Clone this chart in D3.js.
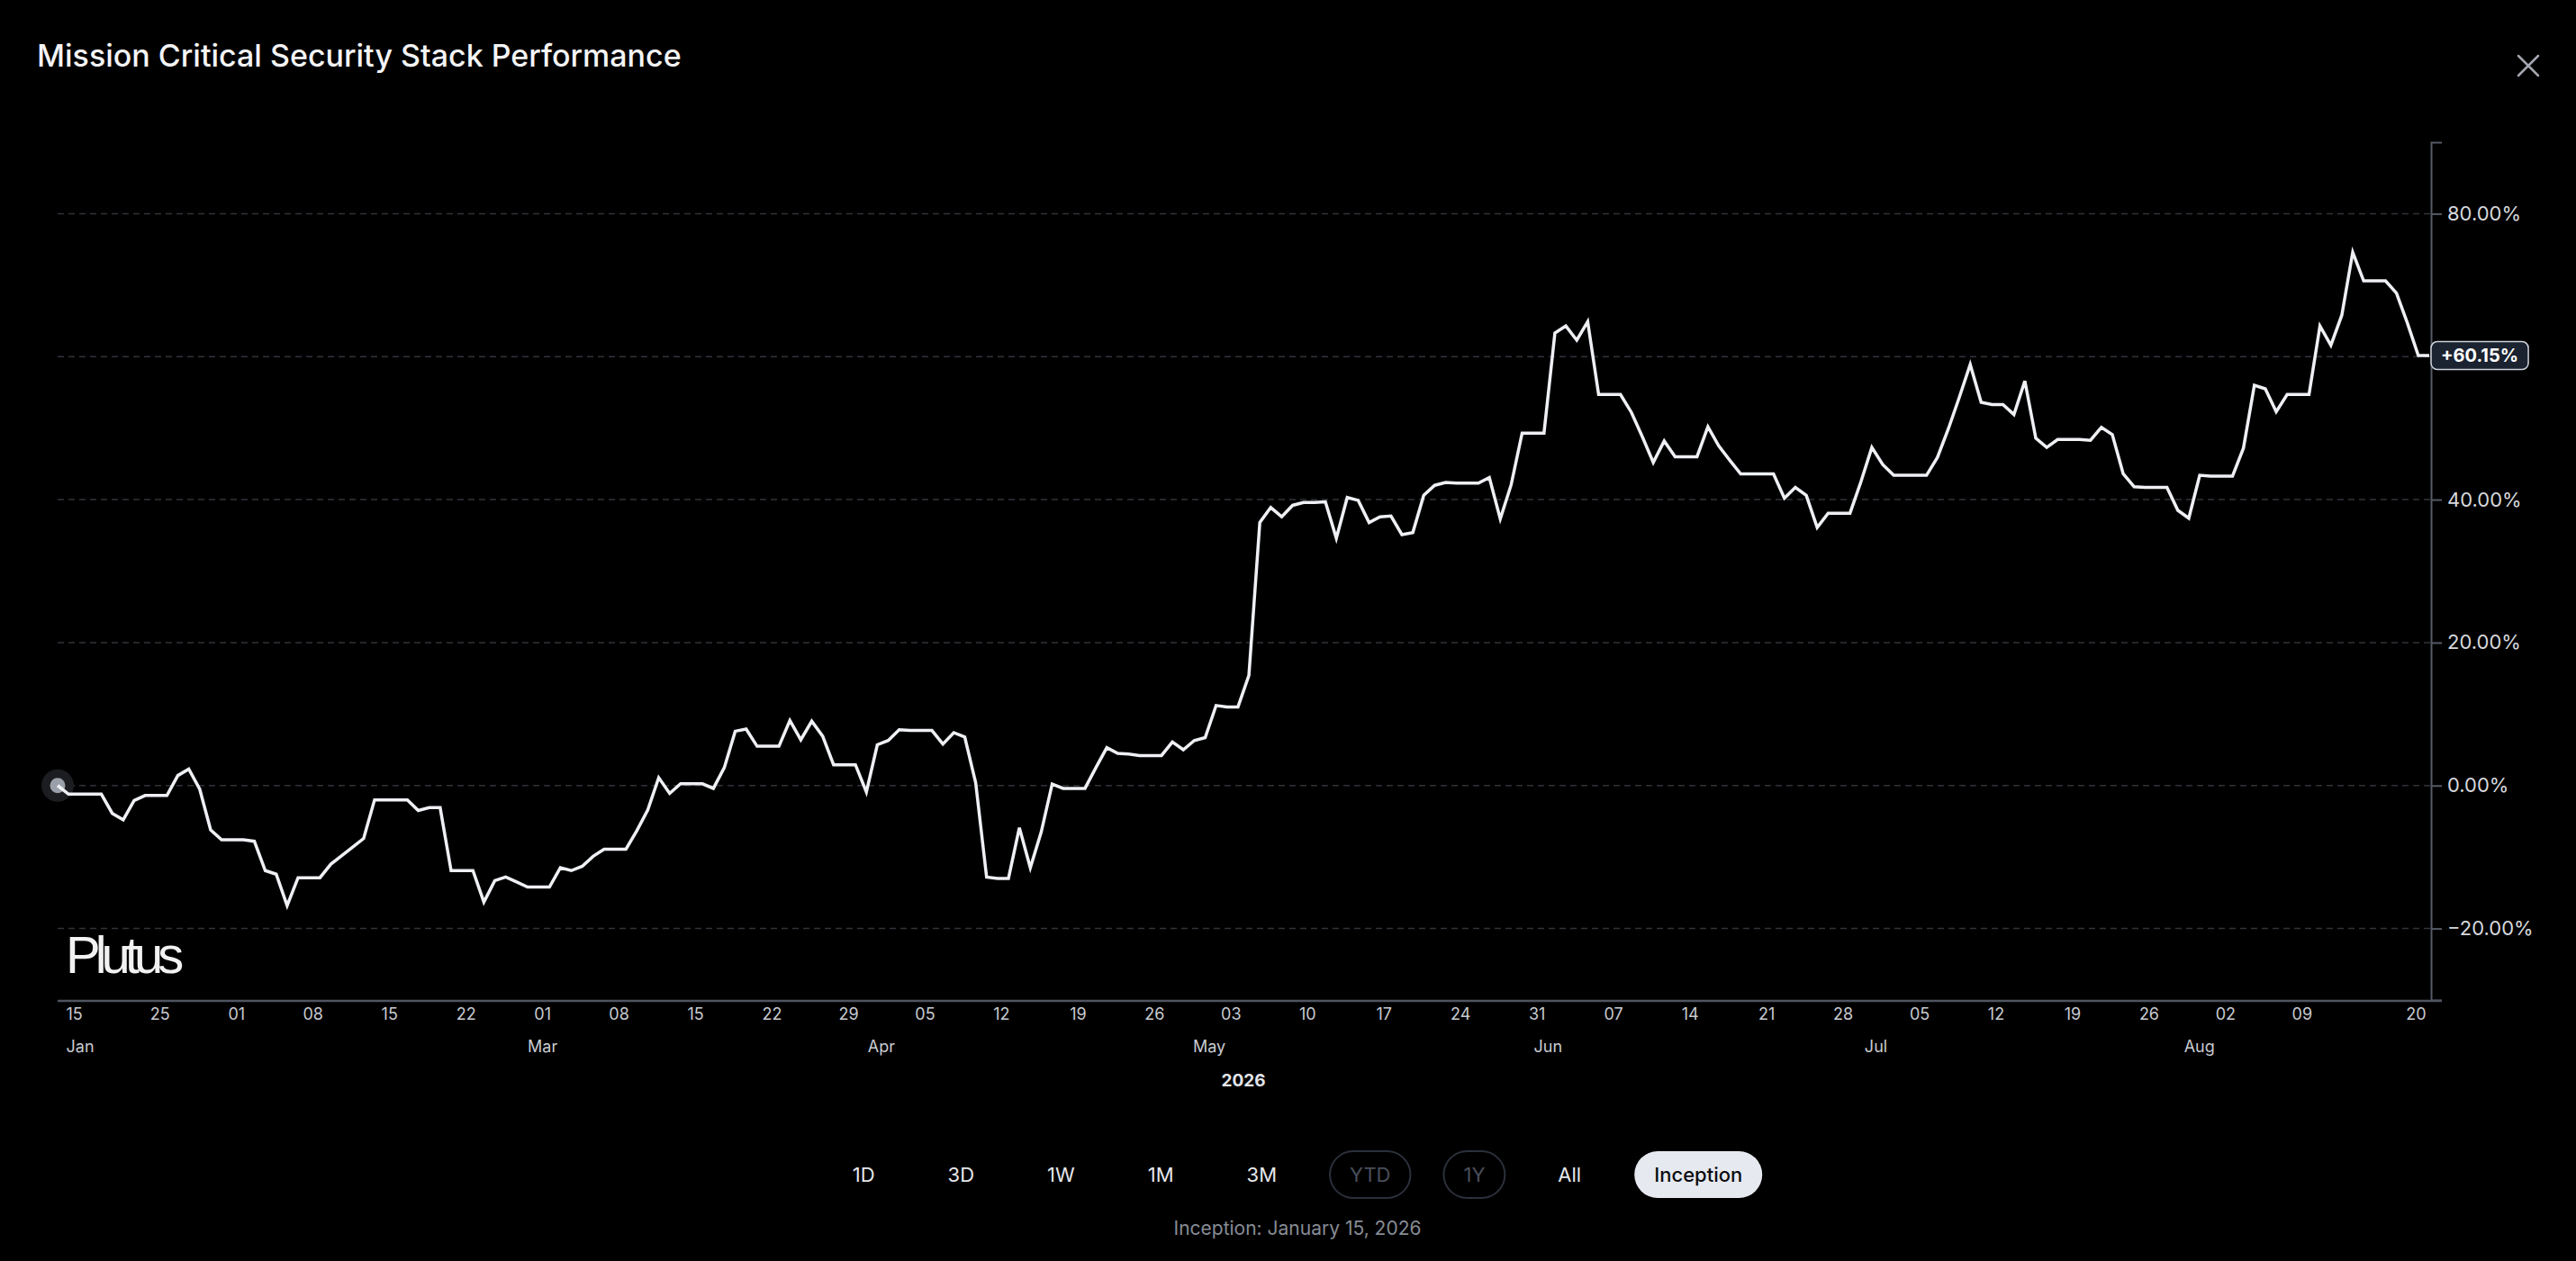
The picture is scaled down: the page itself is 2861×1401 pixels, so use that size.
<!DOCTYPE html>
<html>
<head>
<meta charset="utf-8">
<title>Mission Critical Security Stack Performance</title>
<script src="https://cdn.jsdelivr.net/npm/d3@7"></script>
<style>
  html, body { margin: 0; padding: 0; background: #000; overflow: hidden; }
  svg { display: block; font-family: Inter, "Noto Sans", sans-serif; }
</style>
</head>
<body>
<div class="container"></div>
<script>
// cumulative return (%) since inception, one value per calendar day from Jan 15
// (weekends / holidays just repeat the last close)
var returns = [
  0, -1.2, -1.2, -1.2, -1.2, -3.9, -4.8, -2.1, -1.4, -1.4,
  -1.4, 1.4, 2.3, -0.5, -6.2, -7.6, -7.6, -7.6, -7.8, -11.9,
  -12.4, -16.8, -12.9, -12.9, -12.9, -11.0, -9.8, -8.6, -7.4, -2.0,
  -2.0, -2.0, -2.0, -3.5, -3.1, -3.1, -11.9, -11.9, -11.9, -16.3,
  -13.3, -12.8, -13.5, -14.2, -14.2, -14.2, -11.5, -11.9, -11.3, -9.9,
  -8.9, -8.9, -8.9, -6.3, -3.4, 1.1, -1.1, 0.25, 0.25, 0.25,
  -0.4, 2.5, 7.6, 7.9, 5.5, 5.5, 5.5, 9.1, 6.4, 9.0,
  6.9, 2.9, 2.9, 2.9, -0.9, 5.7, 6.3, 7.8, 7.7, 7.7,
  7.7, 5.8, 7.4, 6.8, 0.4, -12.8, -13.0, -13.0, -5.9, -11.5,
  -6.5, 0.2, -0.4, -0.4, -0.4, 2.5, 5.3, 4.5, 4.4, 4.2,
  4.2, 4.2, 6.1, 5.0, 6.3, 6.7, 11.2, 11.0, 11.0, 15.4,
  36.8, 38.9, 37.6, 39.2, 39.6, 39.6, 39.7, 34.6, 40.3, 39.9,
  36.8, 37.6, 37.7, 35.1, 35.4, 40.6, 42.0, 42.4, 42.3, 42.3,
  42.3, 43.1, 37.3, 42.1, 49.3, 49.3, 49.3, 63.3, 64.3, 62.3,
  64.9, 54.7, 54.7, 54.7, 52.2, 48.8, 45.2, 48.2, 46.0, 46.0,
  46.0, 50.2, 47.5, 45.5, 43.6, 43.6, 43.6, 43.6, 40.2, 41.7,
  40.6, 36.1, 38.1, 38.1, 38.1, 42.5, 47.3, 44.9, 43.4, 43.4,
  43.4, 43.4, 45.9, 49.9, 54.3, 58.9, 53.6, 53.3, 53.3, 51.9,
  56.6, 48.6, 47.3, 48.4, 48.4, 48.4, 48.3, 50.1, 49.1, 43.6,
  41.8, 41.7, 41.7, 41.7, 38.5, 37.4, 43.4, 43.3, 43.3, 43.3,
  47.2, 56.0, 55.5, 52.3, 54.7, 54.7, 54.7, 64.3, 61.6, 65.8,
  74.6, 70.6, 70.6, 70.6, 68.9, 64.7, 60.15, 60.15
];

var yTicks = [-20, 0, 20, 40, 60, 80];
// weekly tick labels between the first and last day
var dayTicks = [
  "2026-01-25", "2026-02-01", "2026-02-08", "2026-02-15", "2026-02-22",
  "2026-03-01", "2026-03-08", "2026-03-15", "2026-03-22", "2026-03-29",
  "2026-04-05", "2026-04-12", "2026-04-19", "2026-04-26", "2026-05-03",
  "2026-05-10", "2026-05-17", "2026-05-24", "2026-05-31", "2026-06-07",
  "2026-06-14", "2026-06-21", "2026-06-28", "2026-07-05", "2026-07-12",
  "2026-07-19", "2026-07-26", "2026-08-02", "2026-08-09"
];
var monthTicks = ["2026-03-01", "2026-04-01", "2026-05-01", "2026-06-01", "2026-07-01", "2026-08-01"];
var ranges = ["1D", "3D", "1W", "1M", "3M", "YTD", "1Y", "All", "Inception"];
var disabledRanges = ["YTD", "1Y"];
var activeRange = "Inception";

var TITLE = "Mission Critical Security Stack Performance";
var NOTE = "Inception: January 15, 2026";

var translate = (x, y) => (`translate(${x}, ${y})`);

const WIDTH = 2861;
const HEIGHT = 1401;
const PLOT_LEFT = 64;
const PLOT_RIGHT = 2698;
const PLOT_TOP = 158;
const PLOT_BOTTOM = 1111;
const AXIS_X = 2700;
const ROW_CENTER = 1441;

var parseDay = d3.timeParse("%Y-%m-%d");

// points are stamped at the 16:00 close
var series = returns.map((v, i) => ({ date: new Date(2026, 0, 15 + i, 16), value: v }));
var first = series[0];
var last = series[series.length - 1];

var xScale = d3.scaleTime()
    .domain([first.date, last.date])
    .range([PLOT_LEFT, PLOT_RIGHT]);

var yScale = d3.scaleLinear()
    .domain([-30, 90])
    .range([PLOT_BOTTOM, PLOT_TOP]);

var draw = function () {
    let svg = d3.select('.container').append('svg')
        .attr('width', WIDTH)
        .attr('height', HEIGHT);

    svg.append('rect')
        .attr('width', WIDTH)
        .attr('height', HEIGHT)
        .attr('fill', '#000');

    svg.append('text')
        .attr('x', 41)
        .attr('y', 74)
        .attr('font-size', 34)
        .attr('font-weight', 500)
        .attr('fill', '#f4f4f6')
        .text(TITLE);

    // close cross
    let close = svg.append('g')
        .attr('transform', translate(2808, 73))
        .attr('stroke', '#a3a7af')
        .attr('stroke-width', 2.5)
        .attr('stroke-linecap', 'round');
    close.append('line').attr('x1', -11).attr('y1', -11).attr('x2', 11).attr('y2', 11);
    close.append('line').attr('x1', -11).attr('y1', 11).attr('x2', 11).attr('y2', -11);

    // grid
    svg.append('g').selectAll('line')
        .data(yTicks)
        .enter().append('line')
        .attr('x1', PLOT_LEFT)
        .attr('x2', AXIS_X)
        .attr('y1', d => yScale(d))
        .attr('y2', d => yScale(d))
        .attr('stroke', '#30333a')
        .attr('stroke-width', 1.5)
        .attr('stroke-dasharray', '7,5');

    // watermark
    svg.append('text')
        .attr('x', 73)
        .attr('y', 1081)
        .attr('font-family', '"Liberation Sans", Arial, sans-serif')
        .attr('font-size', 58)
        .attr('letter-spacing', -6)
        .attr('fill', '#f2f2f2')
        .text('Plutus');

    // y axis on the right
    let yAxis = d3.axisRight(yScale)
        .tickValues(yTicks)
        .tickSize(12)
        .tickSizeOuter(12)
        .tickPadding(6)
        .tickFormat(d => d3.format('.2f')(d) + '%');

    let gy = svg.append('g')
        .attr('transform', translate(AXIS_X, 0))
        .call(yAxis);
    gy.attr('font-family', null).attr('font-size', 22);
    gy.select('.domain').attr('stroke', '#555a66').attr('stroke-width', 2);
    gy.selectAll('.tick line').attr('stroke', '#555a66').attr('stroke-width', 2);
    gy.selectAll('.tick text').attr('fill', '#d6d8dd');
    // the last-value badge sits over any tick label it would collide with
    gy.selectAll('.tick text')
        .filter(d => Math.abs(yScale(d) - yScale(last.value)) < 22)
        .remove();

    // bottom baseline
    svg.append('line')
        .attr('x1', PLOT_LEFT)
        .attr('x2', AXIS_X + 12)
        .attr('y1', PLOT_BOTTOM + 1)
        .attr('y2', PLOT_BOTTOM + 1)
        .attr('stroke', '#4f5460')
        .attr('stroke-width', 2.5);

    // day numbers
    let dayValues = [first.date].concat(dayTicks.map(parseDay), [last.date]);
    let dayAxis = d3.axisBottom(xScale)
        .tickValues(dayValues)
        .tickSize(0)
        .tickPadding(8)
        .tickFormat(d3.timeFormat('%d'));

    let gd = svg.append('g')
        .attr('transform', translate(0, PLOT_BOTTOM + 1))
        .call(dayAxis);
    gd.attr('font-family', null).attr('font-size', 18);
    gd.select('.domain').remove();
    gd.selectAll('text').attr('fill', '#c8cbd1');
    gd.selectAll('.tick').filter((d, i) => i === 0).select('text').attr('text-anchor', 'start').attr('dx', 9);
    gd.selectAll('.tick').filter((d, i) => i === dayValues.length - 1).select('text').attr('text-anchor', 'end').attr('dx', -4);

    // month names
    let monthValues = [first.date].concat(monthTicks.map(parseDay));
    let monthAxis = d3.axisBottom(xScale)
        .tickValues(monthValues)
        .tickSize(0)
        .tickPadding(44)
        .tickFormat(d3.timeFormat('%b'));

    let gm = svg.append('g')
        .attr('transform', translate(0, PLOT_BOTTOM + 1))
        .call(monthAxis);
    gm.attr('font-family', null).attr('font-size', 18);
    gm.select('.domain').remove();
    gm.selectAll('text').attr('fill', '#c8cbd1');
    gm.selectAll('.tick').filter((d, i) => i === 0).select('text').attr('text-anchor', 'start').attr('dx', 9);
    gm.selectAll('.tick').filter((d, i) => i === monthValues.length - 1).select('text').attr('text-anchor', 'end');

    svg.append('text')
        .attr('x', (PLOT_LEFT + PLOT_RIGHT) / 2)
        .attr('y', 1207)
        .attr('text-anchor', 'middle')
        .attr('font-size', 19)
        .attr('font-weight', 700)
        .attr('fill', '#e3e5ea')
        .text(d3.timeFormat('%Y')(first.date));

    // start marker
    svg.append('circle')
        .attr('cx', xScale(first.date))
        .attr('cy', yScale(first.value))
        .attr('r', 18)
        .attr('fill', '#1c1d21');
    svg.append('circle')
        .attr('cx', xScale(first.date))
        .attr('cy', yScale(first.value))
        .attr('r', 8.5)
        .attr('fill', '#9aa0aa');

    let line = d3.line()
        .x(d => xScale(d.date))
        .y(d => yScale(d.value));

    svg.append('path')
        .attr('d', line(series))
        .attr('fill', 'none')
        .attr('stroke', '#eef0f4')
        .attr('stroke-width', 3.5);

    // last value badge
    let badge = svg.append('g')
        .attr('transform', translate(AXIS_X, yScale(last.value)));
    let badgeRect = badge.append('rect')
        .attr('y', -15.5)
        .attr('height', 31)
        .attr('rx', 7)
        .attr('fill', '#1b2230')
        .attr('stroke', '#cfd4dc')
        .attr('stroke-width', 1.5);
    let badgeText = badge.append('text')
        .attr('dy', '0.36em')
        .attr('text-anchor', 'middle')
        .attr('font-size', 20)
        .attr('font-weight', 700)
        .attr('fill', '#ffffff')
        .text(d3.format('+.2f')(last.value) + '%');
    let bw = badgeText.node().getComputedTextLength() + 22;
    badgeRect.attr('width', bw);
    badgeText.attr('x', bw / 2);

    // range buttons
    let row = svg.append('g');
    let btn = row.selectAll('g')
        .data(ranges)
        .enter().append('g');
    btn.append('rect')
        .attr('y', 1279)
        .attr('height', 52)
        .attr('rx', 26)
        .attr('fill', d => d === activeRange ? '#e6e9ef' : 'none')
        .attr('stroke', d => disabledRanges.includes(d) ? '#2b303b' : 'none')
        .attr('stroke-width', 2);
    btn.append('text')
        .attr('y', 1313)
        .attr('text-anchor', 'middle')
        .attr('font-size', 22)
        .attr('font-weight', d => d === activeRange ? 500 : 400)
        .attr('fill', d => d === activeRange ? '#0b0c10' : (disabledRanges.includes(d) ? '#4a4f5c' : '#e5e7eb'))
        .text(d => d);

    let widths = [];
    btn.select('text').each(function () { widths.push(this.getComputedTextLength() + 44); });
    let gap = 37;
    let total = d3.sum(widths) + gap * (widths.length - 1);
    let cursor = ROW_CENTER - total / 2;
    btn.each(function (d, i) {
        let g = d3.select(this);
        g.select('rect').attr('x', cursor).attr('width', widths[i]);
        g.select('text').attr('x', cursor + widths[i] / 2);
        cursor += widths[i] + gap;
    });

    svg.append('text')
        .attr('x', ROW_CENTER)
        .attr('y', 1372)
        .attr('text-anchor', 'middle')
        .attr('font-size', 21)
        .attr('fill', '#878c95')
        .text(NOTE);
};

window.onload = () => (document.fonts ? document.fonts.ready.then(draw) : draw());
</script>
</body>
</html>
